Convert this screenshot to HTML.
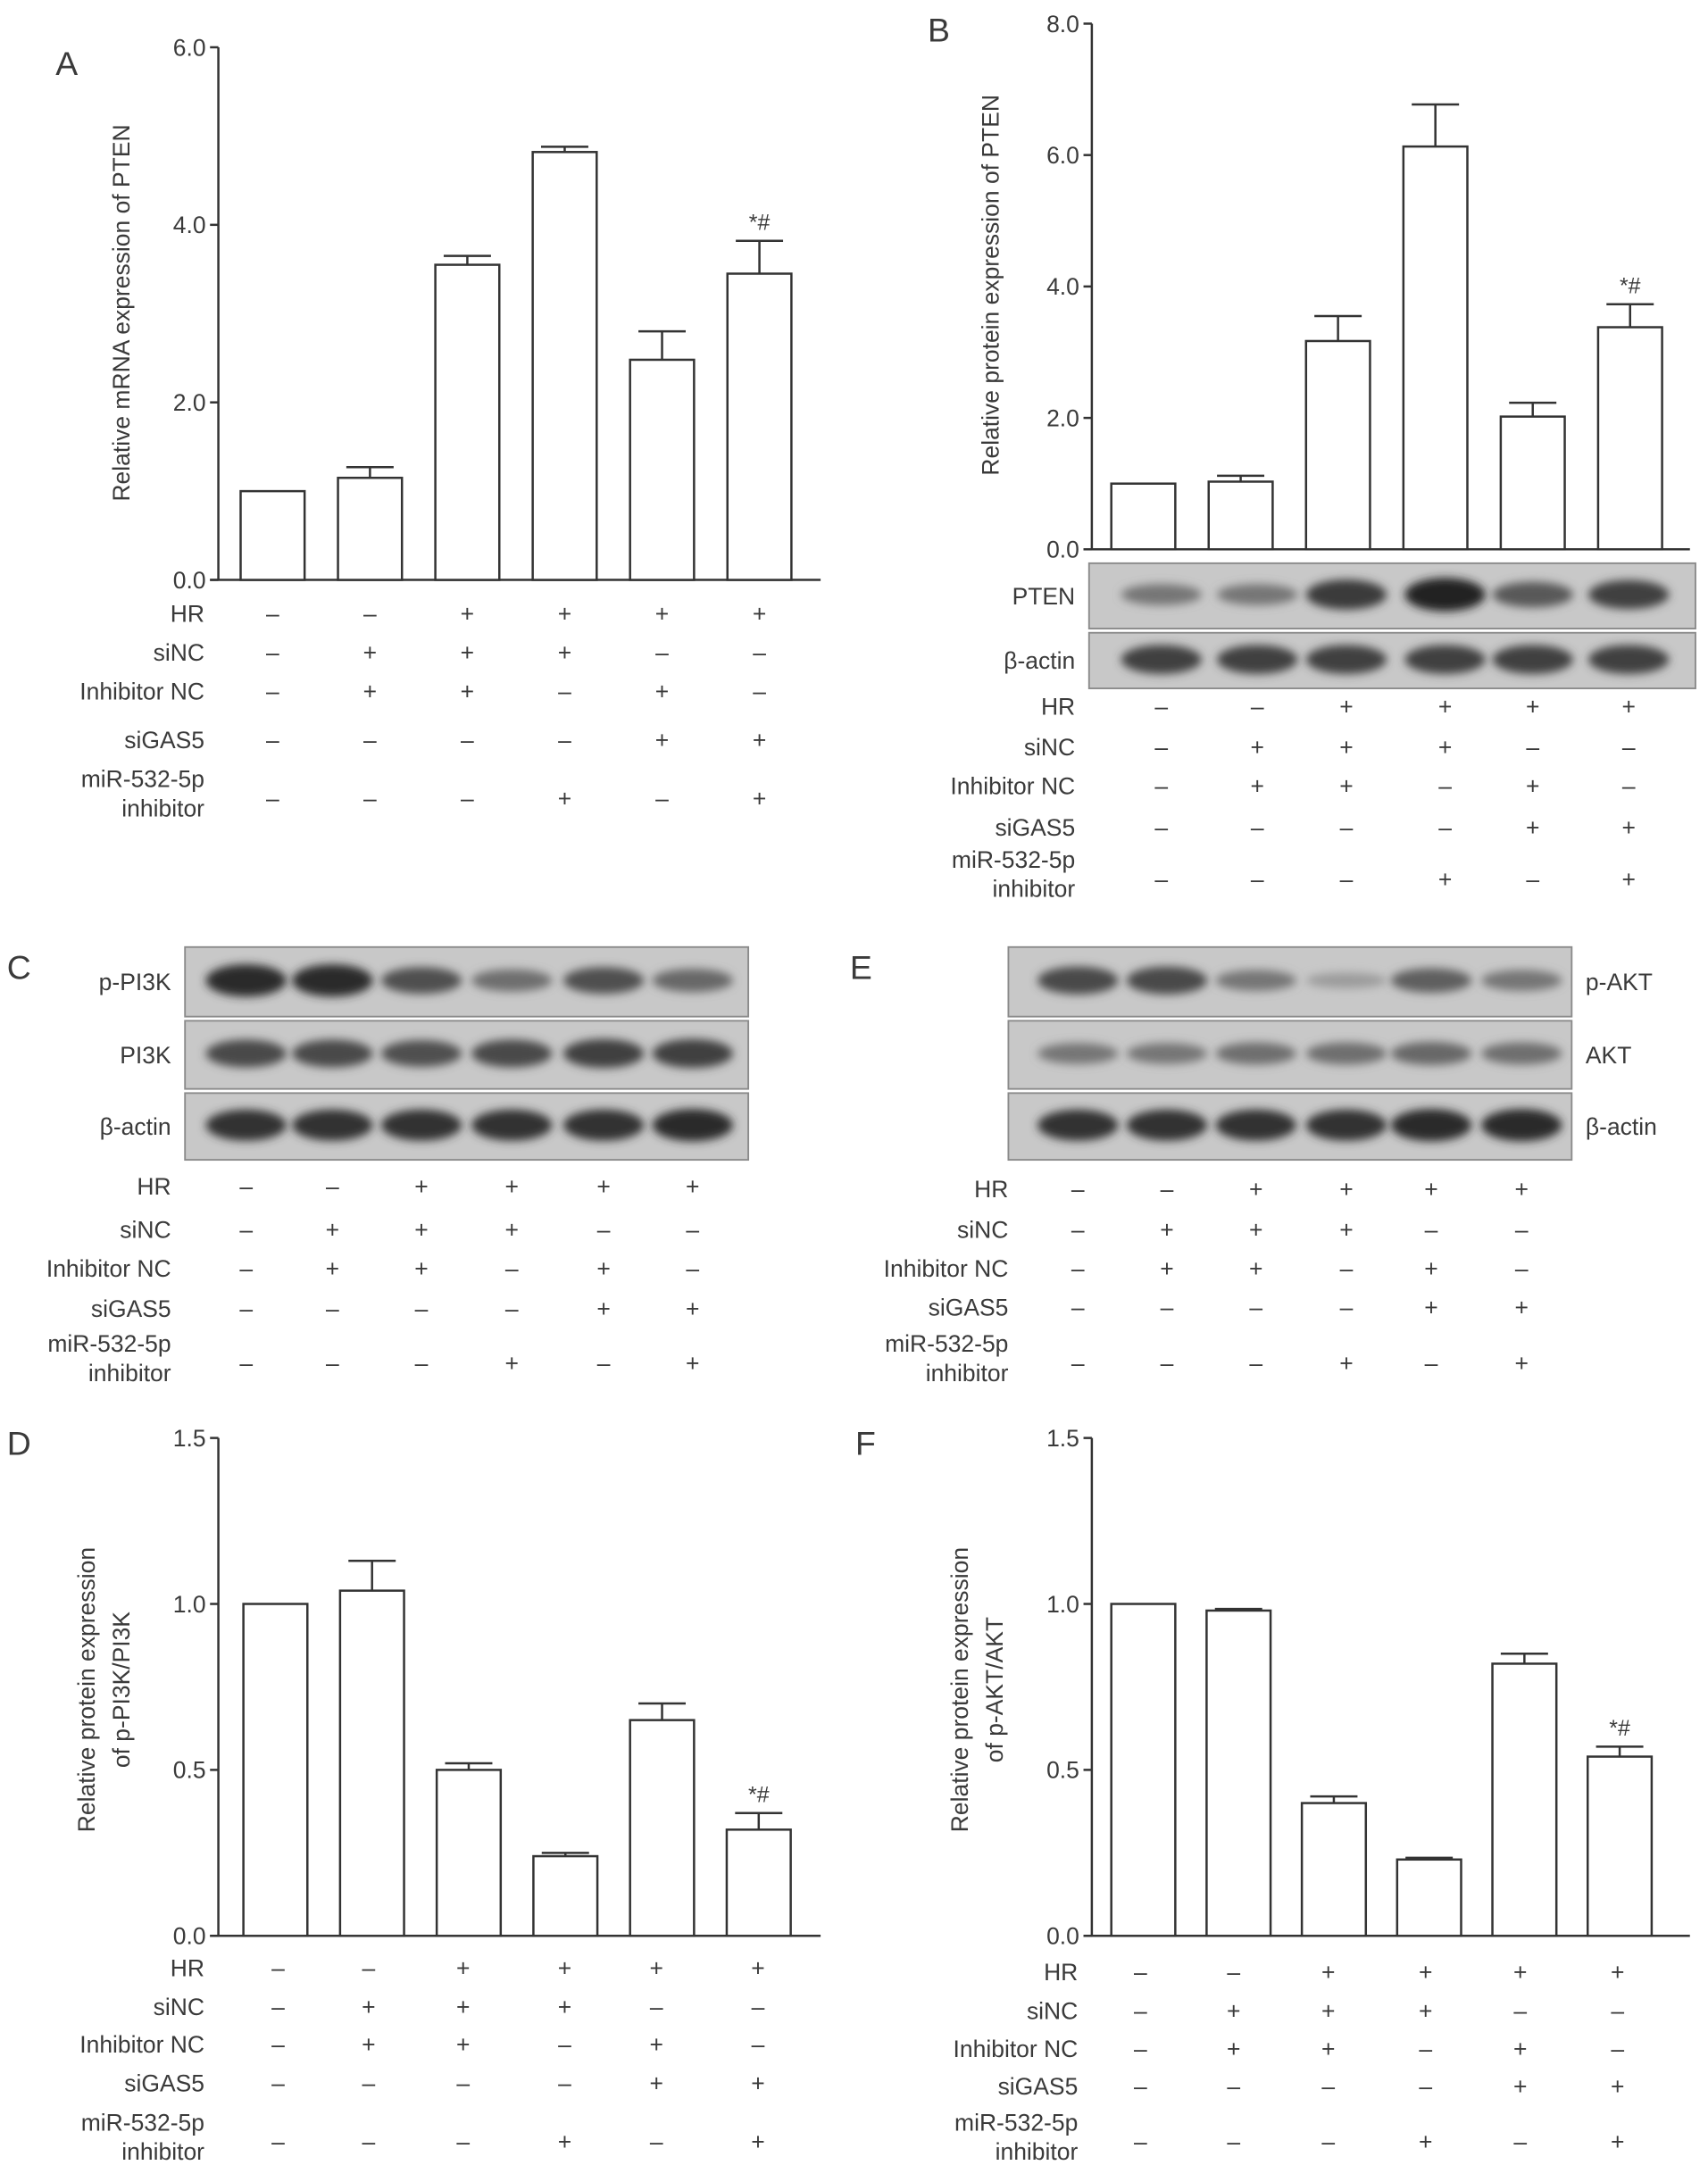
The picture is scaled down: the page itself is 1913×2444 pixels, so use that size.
<!DOCTYPE html>
<html><head><meta charset="utf-8"><style>
html,body{margin:0;padding:0;background:#fff}
svg{display:block}
text{font-family:"Liberation Sans",sans-serif;fill:#3a3a3a}
</style></head><body>
<svg id="fig" xmlns="http://www.w3.org/2000/svg" width="1913" height="2444" viewBox="0 0 1228 1569" preserveAspectRatio="none">
<defs><filter id="blur" x="-30%" y="-80%" width="160%" height="260%"><feGaussianBlur stdDeviation="3.2"/></filter></defs>
</svg>
<script>
const groups = ["G1","G2","G3","G4","G5","G6"];
const condNames = ["HR","siNC","Inhibitor NC","siGAS5","miR-532-5p"];
const condHR     = [0,0,1,1,1,1];
const condSiNC   = [0,1,1,1,0,0];
const condInhNC  = [0,1,1,0,1,0];
const condSiGAS5 = [0,0,0,0,1,1];
const condMiR    = [0,0,0,1,0,1];

const valuesA = [1.0, 1.15, 3.55, 4.82, 2.48, 3.45];
const errorsA = [0, 0.12, 0.10, 0.06, 0.32, 0.37];
const ticksA = ["0.0","2.0","4.0","6.0"];
const valuesB = [1.0, 1.03, 3.17, 6.13, 2.02, 3.38];
const errorsB = [0, 0.09, 0.38, 0.64, 0.21, 0.35];
const ticksB = ["0.0","2.0","4.0","6.0","8.0"];
const valuesD = [1.0, 1.04, 0.50, 0.24, 0.65, 0.32];
const errorsD = [0, 0.09, 0.02, 0.01, 0.05, 0.05];
const ticksD = ["0.0","0.5","1.0","1.5"];
const valuesF = [1.0, 0.98, 0.40, 0.23, 0.82, 0.54];
const errorsF = [0, 0.005, 0.02, 0.005, 0.03, 0.03];
const ticksF = ["0.0","0.5","1.0","1.5"];

const bandPTEN = [0.45,0.45,0.85,1.0,0.65,0.8];
const bandActinB = [0.8,0.8,0.8,0.8,0.8,0.8];
const bandPPI3K = [0.95,0.95,0.7,0.5,0.7,0.55];
const bandPI3K = [0.75,0.75,0.7,0.75,0.8,0.8];
const bandActinC = [0.9,0.9,0.9,0.9,0.9,0.95];
const bandPAKT = [0.75,0.75,0.45,0.2,0.6,0.45];
const bandAKT = [0.45,0.45,0.5,0.5,0.55,0.5];
const bandActinE = [0.9,0.9,0.9,0.9,0.95,0.95];

const svg = document.getElementById('fig');
const NS = "http://www.w3.org/2000/svg";
function mk(tag, attrs, parent){const e=document.createElementNS(NS,tag);for(const k in attrs)e.setAttribute(k,attrs[k]);(parent||svg).appendChild(e);return e;}
function txt(s, x, y, size, anchor, parent){const t=mk('text',{x:x,y:y,'font-size':size,'text-anchor':anchor||'start'},parent);t.textContent=s;return t;}

function panelLetter(s,x,y){const t=txt(s,x,y,24,'start');}

function barChart(id, cfg){
  const g=mk('g',{});
  
  
  const y=v=>cfg.y0-(v/cfg.max)*(cfg.y0-cfg.yTop);
  const x=i=>cfg.x0+cfg.step*i;
  const ya=mk('line',{x1:cfg.ax,y1:cfg.yTop,x2:cfg.ax,y2:cfg.y0,stroke:'#333','stroke-width':1.6},g);
  
  
  const xa=mk('line',{x1:cfg.ax-6,y1:cfg.y0,x2:cfg.axEnd,y2:cfg.y0,stroke:'#333','stroke-width':1.6},g);
  
  
  cfg.ticks.forEach(tl=>{
    const v=parseFloat(tl);const yy=y(v);
    mk('line',{x1:cfg.ax-6,y1:yy,x2:cfg.ax,y2:yy,stroke:'#333','stroke-width':1.6},g);
    const t=txt(tl,cfg.ax-9,yy+6,17,'end',g);
    
    
  });
  cfg.values.forEach((v,i)=>{
    const cx=x(i),w=cfg.bw;
    const r=mk('rect',{x:cx-w/2,y:y(v),width:w,height:cfg.y0-y(v),fill:'#fff',stroke:'#333','stroke-width':1.6},g);
    
    
    const e=cfg.errors[i];
    if(e>0){
      const et=y(v+e);
      mk('line',{x1:cx,y1:y(v),x2:cx,y2:et,stroke:'#333','stroke-width':1.6},g);
      const c=mk('line',{x1:cx-17,y1:et,x2:cx+17,y2:et,stroke:'#333','stroke-width':1.6},g);
      
      
    }
    if(i===cfg.values.length-1){
      const s=txt('*#',cx,y(v+e)-8,16,'middle',g);
      
      
    }
  });
  const tl=mk('text',{'font-size':17,'text-anchor':'middle',transform:`translate(${cfg.titleX},${cfg.titleY}) rotate(-90)`},g);
  
  
  cfg.title.forEach((line,k)=>{const ts=mk('tspan',{x:0,dy:k===0?0:25},tl);ts.textContent=line;});
}

function conditions(id, labelX, rowsY, markX){
  const g=mk('g',{});
  
  
  const rows=[condHR,condSiNC,condInhNC,condSiGAS5,condMiR];
  rows.forEach((row,r)=>{
    const yy=rowsY[r];
    if(r<4){const t=txt(condNames[r],labelX,yy+6,17,'end',g);}
    else{
      const t1=txt('miR-532-5p',labelX,yy+4,17,'end',g);
      const t2=txt('inhibitor',labelX,yy+25,17,'end',g);
    }
    const my = r<4?yy:yy+12;
    row.forEach((v,i)=>{
      const t=txt(v?'+':'\u2013',markX[i],my+6,17,'middle',g);
      
      
    });
  });
}

function blot(id, name, x0, y0, w, h, lanes, intens, labelX, anchor){
  const g=mk('g',{});
  
  
  mk('rect',{x:x0,y:y0,width:w,height:h,fill:'#c8c8c8',stroke:'#8a8a8a','stroke-width':1.2},g);
  intens.forEach((v,i)=>{
    const shade=Math.round(185-150*v);
    const e=mk('ellipse',{cx:lanes[i],cy:y0+h*0.48,rx:29,ry:4+8*v,fill:`rgb(${shade},${shade},${shade})`,filter:'url(#blur)'},g);
    
    
  });
  const t=txt(name,labelX,y0+h/2+6,17,anchor,g);
  
  
}

// Panel A
panelLetter('A',40,54);
barChart('a',{ax:157,axEnd:590,yTop:34,y0:417,max:6,x0:196,step:70,bw:46,values:valuesA,errors:errorsA,ticks:ticksA,title:['Relative mRNA expression of PTEN'],titleX:93,titleY:225});
conditions('a',147,[441,469,497,532,562],[196,266,336,406,476,546]);

// Panel B
panelLetter('B',667,30);
barChart('b',{ax:785,axEnd:1215,yTop:17,y0:395,max:8,x0:822,step:70,bw:46,values:valuesB,errors:errorsB,ticks:ticksB,title:['Relative protein expression of PTEN'],titleX:718,titleY:205});
const lanesB=[835,904,968,1039,1102,1171];
blot('pten-b','PTEN',783,405,436,47,lanesB,bandPTEN,773,'end');
blot('actin-b','\u03B2-actin',783,455,436,40,lanesB,bandActinB,773,'end');
conditions('b',773,[508,537,565,595,620],lanesB);

// Panel C
panelLetter('C',5,704);
const lanesC=[177,239,303,368,434,498];
blot('ppi3k','p-PI3K',133,681,405,50,lanesC,bandPPI3K,123,'end');
blot('pi3k','PI3K',133,734,405,49,lanesC,bandPI3K,123,'end');
blot('actin-c','\u03B2-actin',133,786,405,48,lanesC,bandActinC,123,'end');
conditions('c',123,[853,884,912,941,968],lanesC);

// Panel E
panelLetter('E',611,704);
const lanesE=[775,839,903,968,1029,1094];
blot('pakt','p-AKT',725,681,405,50,lanesE,bandPAKT,1140,'start');
blot('akt','AKT',725,734,405,49,lanesE,bandAKT,1140,'start');
blot('actin-e','\u03B2-actin',725,786,405,48,lanesE,bandActinE,1140,'start');
conditions('e',725,[855,884,912,940,968],lanesE);

// Panel D
panelLetter('D',5,1046);
barChart('d',{ax:157,axEnd:590,yTop:1034,y0:1392,max:1.5,x0:198,step:69.5,bw:46,values:valuesD,errors:errorsD,ticks:ticksD,title:['Relative protein expression','of p-PI3K/PI3K'],titleX:68,titleY:1215});
conditions('d',147,[1415,1443,1470,1498,1528],[200,265,333,406,472,545]);

// Panel F
panelLetter('F',615,1046);
barChart('f',{ax:785,axEnd:1215,yTop:1034,y0:1392,max:1.5,x0:822,step:68.5,bw:46,values:valuesF,errors:errorsF,ticks:ticksF,title:['Relative protein expression','of p-AKT/AKT'],titleX:696,titleY:1215});
conditions('f',775,[1418,1446,1473,1500,1528],[820,887,955,1025,1093,1163]);
</script>
</body></html>
